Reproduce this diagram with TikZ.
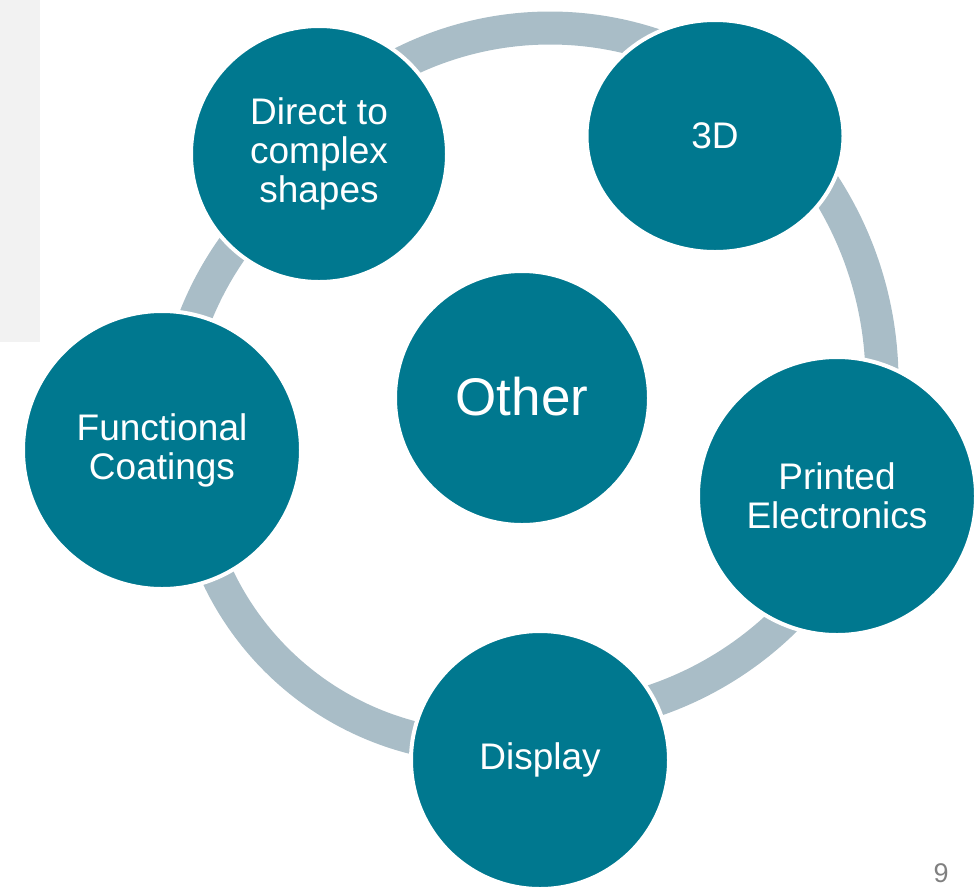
\documentclass[tikz,border=0pt]{standalone}
\usepackage{fontspec}
\setmainfont{Liberation Sans}
\usetikzlibrary{shapes.geometric}
\definecolor{tealc}{RGB}{0,120,143}
\definecolor{ringc}{RGB}{169,189,199}
\definecolor{panelc}{RGB}{242,242,242}
\definecolor{pgnumc}{RGB}{128,128,128}
\begin{document}
\begin{tikzpicture}[x=1pt,y=1pt,
  bubble/.style={circle, fill=tealc, draw=white, line width=4pt, text=white,
    inner sep=0pt, align=center, font=\fontsize{37}{39}\selectfont},
  ringseg/.style={draw=ringc, line width=33pt}]
\useasboundingbox (0,0) rectangle (980,-887);
\fill[panelc] (0,0) rectangle (40,-342);
% centres of the ring arcs
\coordinate (c1) at (550,-357);
\coordinate (c2) at (522,-381);
\coordinate (c3) at (543,-374);
\coordinate (c4) at (487,-449);
\coordinate (c5) at (502,-438.7);
\draw[ringseg] ([shift={(125:329)}]c1) arc[start angle=125, end angle=62, radius=329];
\draw[ringseg] ([shift={(42:360)}]c2) arc[start angle=42, end angle=-8, radius=360];
\draw[ringseg] ([shift={(-38:345)}]c3) arc[start angle=-38, end angle=-80, radius=345];
\draw[ringseg] ([shift={(263:298)}]c4) arc[start angle=263, end angle=197, radius=298];
\draw[ringseg] ([shift={(165:330)}]c5) arc[start angle=165, end angle=137, radius=330];
% nodes
\node[bubble, minimum size=256pt] (direct) at (319,-154) {Direct to\\complex\\shapes};
\node[bubble, shape=ellipse, minimum width=257pt, minimum height=232pt] (threed) at (715,-136) {3D};
\node[bubble, minimum size=278pt] (printed) at (837,-496) {Printed\\Electronics};
\node[bubble, minimum size=258pt] (display) at (540,-760) {Display};
\node[bubble, minimum size=278pt] (functional) at (162,-450) {Functional\\Coatings};
\node[bubble, minimum size=254pt, font=\fontsize{53}{60}\selectfont] (other) at (522,-398) {\raisebox{4pt}{Other}};
\node[text=pgnumc, font=\fontsize{27}{30}\selectfont, anchor=base, inner sep=0pt] (page) at (941,-882) {9};
\end{tikzpicture}
\end{document}
